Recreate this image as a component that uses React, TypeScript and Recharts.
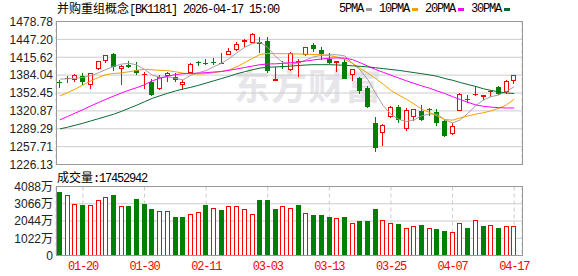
import React from 'react';
import { ComposedChart, Bar, Line, XAxis, YAxis, CartesianGrid } from 'recharts';

// 60 trading days, 2026-01-15 .. 2026-04-17
const dates = [
  '01-15', '01-16', '01-19', '01-20', '01-21', '01-22', '01-23', '01-26', '01-27', '01-28',
  '01-29', '01-30', '02-02', '02-03', '02-04', '02-05', '02-06', '02-09', '02-10', '02-11',
  '02-12', '02-13', '02-24', '02-25', '02-26', '02-27', '03-02', '03-03', '03-04', '03-05',
  '03-06', '03-09', '03-10', '03-11', '03-12', '03-13', '03-16', '03-17', '03-18', '03-19',
  '03-20', '03-23', '03-24', '03-25', '03-26', '03-27', '03-30', '03-31', '04-01', '04-02',
  '04-03', '04-07', '04-08', '04-09', '04-10', '04-13', '04-14', '04-15', '04-16', '04-17',
];
const tickDates = ['01-20', '01-30', '02-11', '03-03', '03-13', '03-25', '04-07', '04-17'];

const opens = [
  1372, 1376.8, 1375.6, 1382.6, 1366.8, 1394.4, 1409.7, 1421.4, 1395.6, 1402.6,
  1392.6, 1383.5, 1372.1, 1359.7, 1382.6, 1381.5, 1366.2, 1388.5, 1407.2, 1403.8,
  1408, 1405, 1420.3, 1428.5, 1442.6, 1441.4, 1442.6, 1444.9, 1373.2, 1400.3,
  1393.2, 1406.2, 1419.1, 1437.9, 1428.5, 1412, 1406.2, 1407.3, 1383.8, 1379.1,
  1361.5, 1299.1, 1281.5, 1309.7, 1327.4, 1288.6, 1310.9, 1321.5, 1325, 1319.1,
  1302.7, 1279.2, 1321.5, 1342.6, 1348.5, 1346.2, 1355.6, 1362.6, 1354.4, 1374.4,
];
const highs = [
  1375.6, 1382.6, 1386.2, 1387.3, 1388.5, 1409.5, 1419.5, 1423.8, 1401.4, 1409.7,
  1407.3, 1390.3, 1376.8, 1384.4, 1390.3, 1388.5, 1375.6, 1405, 1409.7, 1412,
  1413.8, 1422.6, 1432, 1442.6, 1448.5, 1459.1, 1450.9, 1452, 1399.1, 1409.7,
  1425, 1412, 1434, 1441.4, 1433.2, 1423.8, 1409.7, 1412, 1395, 1381.4,
  1365, 1309.7, 1297, 1329.7, 1330.9, 1326.2, 1325, 1332, 1325.6, 1325,
  1306.2, 1299.1, 1352.1, 1348.5, 1365, 1349, 1358, 1365, 1375.6, 1384,
];
const lows = [
  1360.9, 1369.7, 1372.1, 1366.8, 1360.3, 1393.5, 1405, 1392.1, 1366.2, 1396.2,
  1384.4, 1359.1, 1348, 1357.9, 1372.7, 1372.1, 1358, 1388.5, 1400.3, 1401.4,
  1402, 1404, 1419.1, 1427.3, 1434.4, 1440.3, 1422.6, 1388.5, 1373.2, 1395.6,
  1392, 1381.4, 1418, 1425, 1410.9, 1404, 1390.3, 1376.8, 1374.4, 1350.9,
  1325.6, 1247.4, 1258, 1308.5, 1299.1, 1286.2, 1302.7, 1303, 1311, 1294.4,
  1274.4, 1278, 1320.3, 1335.6, 1348, 1340.3, 1345, 1349.7, 1350.9, 1368.5,
];
const closes = [
  1371, 1378.5, 1383.8, 1372.7, 1387.3, 1408.5, 1419.1, 1399.1, 1400.3, 1399.1,
  1387.3, 1386.8, 1349.7, 1381.4, 1387.3, 1376, 1372.1, 1403.8, 1406.4, 1406,
  1406.5, 1406.2, 1426.2, 1439.1, 1446.1, 1456.7, 1439.1, 1392.1, 1377.9, 1398.5,
  1422.6, 1409.7, 1433.2, 1430.9, 1421.5, 1405, 1408.5, 1377.9, 1394.4, 1356.8,
  1327.4, 1255, 1296.8, 1328.6, 1303.9, 1322.7, 1323.8, 1303.9, 1322.7, 1300.3,
  1275.6, 1294.4, 1350.9, 1340.3, 1350.9, 1348.5, 1356.8, 1350.9, 1373.2, 1383.8,
];
// 成交量, 万
const volumes = [
  3790, 3611, 3075, 2976, 2976, 3313, 3492, 3571, 2956, 2916,
  3373, 3036, 2778, 2659, 2659, 2301, 2301, 2480, 2599, 2976,
  2837, 2678, 2956, 2956, 2778, 2480, 3313, 3313, 2778, 2956,
  2837, 3016, 2520, 2420, 2420, 2301, 2222, 2301, 1924, 2063,
  2063, 2778, 2103, 1924, 1885, 1627, 1746, 1825, 1627, 1587,
  1468, 1389, 1924, 1647, 2103, 1766, 1805, 1647, 1746, 1745,
];
const ma5 = [
  1377, 1377.5, 1378.5, 1380, 1383, 1388, 1394, 1399.5, 1403.5, 1405,
  1402, 1394, 1384, 1380, 1381, 1378.5, 1375.5, 1384, 1388.5, 1392,
  1399, 1405, 1413.5, 1423.5, 1433, 1440, 1442, 1433, 1417, 1406,
  1403, 1406, 1411, 1416.5, 1419, 1420, 1420, 1418, 1405, 1393,
  1376, 1352, 1330, 1315, 1306, 1302, 1305, 1312, 1315.5, 1315,
  1305, 1299.5, 1305, 1316.5, 1330, 1340, 1346, 1349, 1355, 1363.5,
];
const ma10 = [
  1347.5, 1353, 1359.5, 1366.5, 1373.5, 1380, 1385, 1387, 1388, 1390,
  1392.5, 1394.5, 1393.5, 1392.5, 1392, 1390, 1387.5, 1386.5, 1386, 1386.5,
  1388.5, 1390.5, 1393.5, 1399, 1406, 1413.5, 1420.5, 1422.5, 1422, 1422,
  1421.5, 1421.5, 1421, 1420.5, 1420, 1418.5, 1416, 1412, 1405, 1396,
  1387.5, 1378, 1368, 1357, 1349, 1341.5, 1333, 1324, 1318, 1312,
  1305.5, 1304.5, 1308.5, 1312, 1315, 1317.5, 1321, 1325.5, 1331.5, 1341.5,
];
const ma20 = [
  1305, 1311, 1317, 1323, 1329.5, 1335.5, 1341.5, 1347, 1352.5, 1357.5,
  1362, 1367, 1374, 1378.5, 1382, 1385, 1386.5, 1387, 1387.5, 1388.5,
  1389.5, 1390.5, 1392.5, 1395, 1397.5, 1400, 1402.5, 1403.8, 1404, 1405,
  1406, 1407.5, 1409, 1411, 1412.5, 1414, 1414.5, 1414, 1411.5, 1406,
  1400, 1394, 1389, 1384, 1379, 1374, 1369.5, 1365, 1361, 1356,
  1351.5, 1346, 1341, 1336, 1331.5, 1329, 1327.5, 1326.5, 1326, 1326,
];
const ma30 = [
  1289, 1292, 1295.5, 1299, 1303, 1307, 1311, 1315, 1320, 1325.5,
  1331, 1337, 1343, 1347.5, 1352, 1356, 1359.5, 1362.5, 1366, 1370,
  1374, 1378, 1382, 1386.5, 1390, 1393.5, 1396.5, 1398, 1398.5, 1399,
  1400, 1401, 1402, 1402.5, 1402.5, 1402.5, 1402, 1401.5, 1400.5, 1399.5,
  1398.5, 1397, 1395.5, 1394, 1392.5, 1390.5, 1388.5, 1386.5, 1384.5, 1382,
  1378, 1375, 1371, 1367.5, 1364, 1360, 1357, 1354.5, 1352.5, 1351.5,
];

const priceTicks = [1226.13, 1257.71, 1289.29, 1320.87, 1352.45, 1384.04, 1415.62, 1447.2, 1478.78];
const volTicks = [0, 1022, 2044, 3066, 4088];

const RED = '#ff0000';
const GREEN = '#008000';
const MONO = '"Liberation Mono", "DejaVu Sans Mono", monospace';
const CJK = '"Noto Sans CJK SC", "Noto Sans", sans-serif';
const SANS = '"Liberation Sans", Arial, "Noto Sans CJK SC", sans-serif';

const priceData = dates.map((d, i) => ({
  date: d,
  open: opens[i],
  high: highs[i],
  low: lows[i],
  close: closes[i],
  range: [lows[i], highs[i]],
  ma5: ma5[i],
  ma10: ma10[i],
  ma20: ma20[i],
  ma30: ma30[i],
}));

const volData = dates.map((d, i) => ({
  date: d,
  volume: volumes[i],
  up: i === 0 ? closes[i] >= opens[i] : closes[i] >= closes[i - 1],
}));

const Candle = (props: any) => {
  const { x, y, width, height, payload } = props;
  const { open, close, high, low } = payload;
  const X = Math.round(x + width / 2 - 2.5);
  const k = high === low ? 0 : height / (high - low);
  const yo = y + (high - open) * k;
  const yc = y + (high - close) * k;
  const bt = Math.round(Math.min(yo, yc));
  const bb = Math.max(Math.round(Math.max(yo, yc)), bt + 1);
  const yh = Math.round(y);
  const yl = Math.round(y + height);
  if (close >= open) {
    return (
      <g>
        <line x1={X + 2.5} x2={X + 2.5} y1={yh} y2={bt} stroke={RED} />
        <line x1={X + 2.5} x2={X + 2.5} y1={bb} y2={yl} stroke={RED} />
        {bb - bt >= 2 ? (
          <rect x={X + 0.5} y={bt + 0.5} width={4} height={bb - bt - 1} fill="#fff" stroke={RED} />
        ) : (
          <rect x={X} y={bt} width={5} height={bb - bt} fill={RED} />
        )}
      </g>
    );
  }
  return (
    <g>
      <line x1={X + 2.5} x2={X + 2.5} y1={yh} y2={yl} stroke={GREEN} />
      <rect x={X} y={bt} width={5} height={bb - bt} fill={GREEN} />
    </g>
  );
};

const VolBar = (props: any) => {
  const { x, y, width, height, payload } = props;
  const X = Math.round(x + width / 2 - 2.5);
  const t = Math.round(y);
  const b = Math.round(y + height);
  if (payload.up) {
    return <rect x={X + 0.5} y={t + 0.5} width={4} height={Math.max(b - t - 1, 0)} fill="#fff" stroke={RED} />;
  }
  return <rect x={X} y={t} width={5} height={b - t} fill={GREEN} />;
};

const DateTick = (props: any) => {
  const { x, y, payload } = props;
  return (
    <text x={x} y={y + 12} textAnchor="middle" fill={RED} fontFamily={MONO} fontSize={12} style={{ letterSpacing: '-1.2px' }}>
      {payload.value}
    </text>
  );
};

const monoSpan: React.CSSProperties = { fontFamily: MONO, fontSize: 12, letterSpacing: '-1.2px' };

const legend = [
  { name: '5PMA', color: '#a0a0a0' },
  { name: '10PMA', color: '#f5a000' },
  { name: '20PMA', color: '#ff00ff' },
  { name: '30PMA', color: '#0a6b32' },
];

export default function App() {
  return (
    <div style={{ position: 'absolute', left: 0, top: 0, width: 578, height: 276, background: '#fff', overflow: 'hidden' }}>
      {/* watermark */}
      <div style={{ position: 'absolute', left: 234, top: 64, fontFamily: CJK, fontSize: 36, fontWeight: 700, color: '#e6e6ea', lineHeight: '40px', letterSpacing: 1 }}>
        东方财富
      </div>

      <div style={{ position: 'absolute', left: 57, top: 2, lineHeight: '12px', whiteSpace: 'nowrap', color: '#000' }}>
        <span style={{ fontFamily: CJK, fontSize: 12 }}>并购重组概念</span>
        <span style={monoSpan}>[BK1181] 2026-04-17 15:00</span>
      </div>

      <div style={{ position: 'absolute', left: 339, top: 3, display: 'flex', alignItems: 'center', lineHeight: '12px', whiteSpace: 'nowrap' }}>
        {legend.map((l) => (
          <span key={l.name} style={{ display: 'flex', alignItems: 'center', marginRight: 7 }}>
            <span style={monoSpan}>{l.name}</span>
            <span style={{ display: 'inline-block', width: 6, height: 3, background: l.color, marginLeft: 3 }} />
          </span>
        ))}
      </div>

      <div style={{ position: 'absolute', left: 0, top: 0 }}>
        <ComposedChart width={578} height={176} data={priceData} margin={{ top: 21.5, right: 56, left: 0, bottom: 11.5 }}>
          <CartesianGrid vertical={false} stroke="#cccccc" />
          <CartesianGrid horizontal={false} stroke="#cccccc" strokeDasharray="4 3" />
          <XAxis
            dataKey="date"
            ticks={tickDates}
            interval={0}
            height={0}
            tick={false}
            axisLine={false}
            tickLine={false}
            padding={{ left: 0, right: 4 }}
          />
          <YAxis
            type="number"
            domain={[1226.13, 1478.78]}
            ticks={priceTicks}
            interval={0}
            width={56}
            tickSize={0}
            tickMargin={3}
            axisLine={false}
            tickLine={false}
            tickFormatter={(v: number) => v.toFixed(2)}
            tick={{ fontSize: 12, fontFamily: SANS, fill: '#222' }}
          />
          <Bar dataKey="range" barSize={5} shape={Candle} isAnimationActive={false} />
          <Line type="linear" dataKey="ma5" stroke="#a0a0a0" strokeWidth={1} dot={false} activeDot={false} isAnimationActive={false} />
          <Line type="linear" dataKey="ma10" stroke="#f5a000" strokeWidth={1} dot={false} activeDot={false} isAnimationActive={false} />
          <Line type="linear" dataKey="ma20" stroke="#ff00ff" strokeWidth={1} dot={false} activeDot={false} isAnimationActive={false} />
          <Line type="linear" dataKey="ma30" stroke="#0a6b32" strokeWidth={1} dot={false} activeDot={false} isAnimationActive={false} />
        </ComposedChart>
      </div>
      <div style={{ position: 'absolute', left: 56, top: 21, width: 467, height: 144, boxSizing: 'border-box', border: '1px solid #999' }} />

      <div style={{ position: 'absolute', left: 57, top: 170.5, lineHeight: '12px', whiteSpace: 'nowrap', color: '#000' }}>
        <span style={{ fontFamily: CJK, fontSize: 12 }}>成交量</span>
        <span style={monoSpan}>:17452942</span>
      </div>

      <div style={{ position: 'absolute', left: 0, top: 170 }}>
        <ComposedChart width={578} height={106} data={volData} margin={{ top: 16.5, right: 56, left: 0, bottom: 0.5 }}>
          <CartesianGrid vertical={false} stroke="#cccccc" />
          <CartesianGrid horizontal={false} stroke="#cccccc" strokeDasharray="4 3" />
          <XAxis
            dataKey="date"
            ticks={tickDates}
            interval={0}
            height={20}
            tickSize={0}
            tickMargin={2}
            axisLine={false}
            tickLine={false}
            tick={DateTick}
            padding={{ left: 0, right: 4 }}
          />
          <YAxis
            type="number"
            domain={[0, 4088]}
            ticks={volTicks}
            interval={0}
            width={56}
            tickSize={0}
            tickMargin={3}
            axisLine={false}
            tickLine={false}
            tickFormatter={(v: number) => (v === 0 ? '0' : `${v}万`)}
            tick={{ fontSize: 12, fontFamily: SANS, fill: '#222' }}
          />
          <Bar dataKey="volume" barSize={5} shape={VolBar} isAnimationActive={false} />
        </ComposedChart>
      </div>
      <div style={{ position: 'absolute', left: 56, top: 186, width: 467, height: 70, boxSizing: 'border-box', border: '1px solid #999' }} />
    </div>
  );
}
